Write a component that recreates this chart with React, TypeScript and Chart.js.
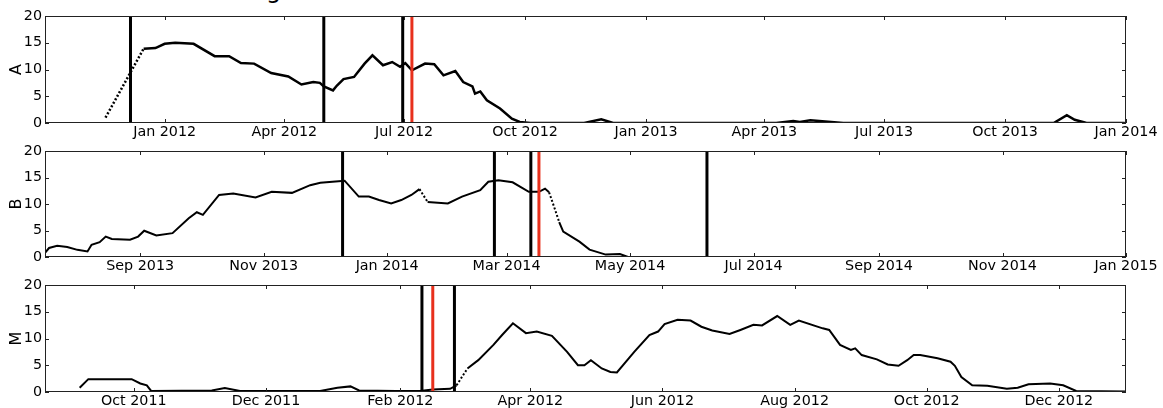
import React, { useEffect, useRef } from "react";
import { Chart, registerables } from "chart.js";

Chart.register(...registerables);

// ---------- data ----------
// Panel A
const A_DATES = [
  "2011-11-17", "2011-12-16", "2011-12-25", "2012-01-01", "2012-01-09", "2012-01-23",
  "2012-02-08", "2012-02-19", "2012-02-28", "2012-03-09", "2012-03-22", "2012-04-04",
  "2012-04-14", "2012-04-23", "2012-04-28", "2012-05-01", "2012-05-08", "2012-05-11",
  "2012-05-16", "2012-05-24", "2012-06-01", "2012-06-07", "2012-06-15", "2012-06-22",
  "2012-06-28", "2012-07-02", "2012-07-07", "2012-07-17", "2012-07-24", "2012-07-31",
  "2012-08-09", "2012-08-15", "2012-08-22", "2012-08-24", "2012-08-28", "2012-09-02",
  "2012-09-12", "2012-09-21", "2012-09-27", "2012-10-05", "2012-11-15", "2012-11-28",
  "2012-12-07", "2013-04-10", "2013-04-23", "2013-04-28", "2013-05-06", "2013-05-31",
  "2013-11-07", "2013-11-17", "2013-11-23", "2013-12-02", "2013-12-31",
];
const A_VALUES = [
  1.0, 13.9, 14.0, 14.8, 15.0, 14.8,
  12.5, 12.5, 11.2, 11.1, 9.35, 8.7,
  7.2, 7.65, 7.5, 6.85, 6.1, 7.0,
  8.2, 8.6, 11.1, 12.65, 10.8, 11.4,
  10.5, 11.2, 9.85, 11.1, 11.0, 8.9,
  9.7, 7.65, 6.85, 5.5, 5.9, 4.25,
  2.7, 0.8, 0.2, 0.0, 0.0, 0.7,
  0.0, 0.0, 0.35, 0.2, 0.5, 0.0,
  0.0, 1.45, 0.6, 0.0, 0.0,
];
const A_BLACK_LINES = ["2011-12-06", "2012-05-01", "2012-06-30"];
const A_RED_LINES = ["2012-07-07"];
const A_TICKS = [
  "2012-01-01", "2012-04-01", "2012-07-01", "2012-10-01", "2013-01-01",
  "2013-04-01", "2013-07-01", "2013-10-01", "2014-01-01",
];
const A_RANGE = ["2011-10-02", "2014-01-01"];

// Panel B
const B_DATES = [
  "2013-07-16", "2013-07-18", "2013-07-22", "2013-07-27", "2013-08-01", "2013-08-06",
  "2013-08-08", "2013-08-12", "2013-08-15", "2013-08-18", "2013-08-27", "2013-08-31",
  "2013-09-03", "2013-09-09", "2013-09-17", "2013-09-25", "2013-09-29", "2013-10-02",
  "2013-10-10", "2013-10-17", "2013-10-28", "2013-11-05", "2013-11-15", "2013-11-24",
  "2013-11-29", "2013-12-05", "2013-12-11", "2013-12-18", "2013-12-23", "2013-12-28",
  "2014-01-03", "2014-01-08", "2014-01-13", "2014-01-17", "2014-01-21", "2014-01-31",
  "2014-02-07", "2014-02-16", "2014-02-20", "2014-02-25", "2014-03-04", "2014-03-12",
  "2014-03-17", "2014-03-20", "2014-03-22", "2014-03-25", "2014-03-27", "2014-03-29",
  "2014-04-06", "2014-04-11", "2014-04-19", "2014-04-26", "2014-04-30", "2015-01-01",
];
const B_VALUES = [
  0.8, 1.7, 2.1, 1.9, 1.35, 1.05,
  2.3, 2.8, 3.85, 3.4, 3.25, 3.85,
  4.95, 4.05, 4.5, 7.3, 8.45, 7.95,
  11.7, 12.0, 11.25, 12.3, 12.1, 13.55,
  14.0, 14.2, 14.4, 11.4, 11.4, 10.75,
  10.1, 10.75, 11.7, 12.8, 10.4, 10.1,
  11.4, 12.6, 14.2, 14.5, 14.1, 12.3,
  12.3, 12.9, 12.2, 8.9, 6.6, 4.8,
  2.9, 1.4, 0.45, 0.55, 0.0, 0.0,
];
const B_BLACK_LINES = ["2013-12-10", "2014-02-23", "2014-03-13", "2014-06-08"];
const B_RED_LINES = ["2014-03-17"];
const B_TICKS = [
  "2013-09-01", "2013-11-01", "2014-01-01", "2014-03-01", "2014-05-01",
  "2014-07-01", "2014-09-01", "2014-11-01", "2015-01-01",
];
const B_RANGE = ["2013-07-16", "2015-01-01"];

// Panel M
const M_DATES = [
  "2011-09-06", "2011-09-10", "2011-09-30", "2011-10-04", "2011-10-07", "2011-10-09",
  "2011-11-06", "2011-11-12", "2011-11-19", "2011-12-26", "2012-01-03", "2012-01-09",
  "2012-01-13", "2012-01-30", "2012-02-10", "2012-02-16", "2012-02-24", "2012-02-27",
  "2012-03-03", "2012-03-08", "2012-03-15", "2012-03-19", "2012-03-24", "2012-03-30",
  "2012-04-04", "2012-04-11", "2012-04-18", "2012-04-23", "2012-04-26", "2012-04-29",
  "2012-05-04", "2012-05-08", "2012-05-11", "2012-05-19", "2012-05-26", "2012-05-30",
  "2012-06-02", "2012-06-08", "2012-06-14", "2012-06-19", "2012-06-24", "2012-07-02",
  "2012-07-07", "2012-07-13", "2012-07-17", "2012-07-24", "2012-07-30", "2012-08-03",
  "2012-08-14", "2012-08-17", "2012-08-22", "2012-08-27", "2012-08-29", "2012-09-01",
  "2012-09-08", "2012-09-13", "2012-09-18", "2012-09-22", "2012-09-25", "2012-09-28",
  "2012-10-06", "2012-10-12", "2012-10-14", "2012-10-17", "2012-10-22", "2012-10-29",
  "2012-11-07", "2012-11-12", "2012-11-17", "2012-11-27", "2012-12-03", "2012-12-09",
  "2013-01-01",
];
const M_VALUES = [
  0.8, 2.4, 2.4, 1.6, 1.25, 0.2,
  0.3, 0.75, 0.2, 0.2, 0.8, 1.05,
  0.3, 0.2, 0.2, 0.45, 0.6, 1.25,
  4.4, 5.95, 8.8, 10.65, 12.85, 11.0,
  11.3, 10.5, 7.5, 5.0, 5.0, 5.95,
  4.4, 3.75, 3.65, 7.5, 10.65, 11.3,
  12.7, 13.5, 13.35, 12.2, 11.5, 10.85,
  11.6, 12.55, 12.45, 14.2, 12.55, 13.35,
  11.9, 11.6, 8.8, 7.85, 8.15, 6.9,
  6.1, 5.15, 4.9, 5.95, 6.9, 6.9,
  6.3, 5.65, 4.9, 2.8, 1.25, 1.15,
  0.6, 0.8, 1.45, 1.6, 1.25, 0.2,
  0.1,
];
const M_BLACK_LINES = ["2012-02-11", "2012-02-26"];
const M_RED_LINES = ["2012-02-16"];
const M_TICKS = [
  "2011-10-01", "2011-12-01", "2012-02-01", "2012-04-01", "2012-06-01",
  "2012-08-01", "2012-10-01", "2012-12-01",
];
const M_RANGE = ["2011-08-21", "2013-01-01"];

const Y_TICKS = [0, 5, 10, 15, 20];
const MONTHS = ["Jan", "Feb", "Mar", "Apr", "May", "Jun", "Jul", "Aug", "Sep", "Oct", "Nov", "Dec"];

// ---------- helpers ----------
const DAY = 86400000;
const toDay = (s: string) =>
  Date.UTC(+s.slice(0, 4), +s.slice(5, 7) - 1, +s.slice(8, 10)) / DAY;
const fmtDay = (v: number) => {
  const dt = new Date(Math.round(v) * DAY);
  return `${MONTHS[dt.getUTCMonth()]} ${dt.getUTCFullYear()}`;
};

const FONT = "'DejaVu Sans', sans-serif";

const frameAndTicks = {
  id: "frameAndTicks",
  afterDatasetsDraw(chart: any) {
    const { ctx, chartArea } = chart;
    const { left, right, top, bottom } = chartArea;
    const xs = chart.scales.x;
    const ys = chart.scales.y;
    ctx.save();
    ctx.strokeStyle = "#222";
    ctx.lineWidth = 1;
    ctx.beginPath();
    const L = 4;
    xs.ticks.forEach((t: any) => {
      const px = Math.round(xs.getPixelForValue(t.value)) + 0.5;
      ctx.moveTo(px, bottom);
      ctx.lineTo(px, bottom - L);
      ctx.moveTo(px, top);
      ctx.lineTo(px, top + L);
    });
    ys.ticks.forEach((t: any) => {
      const py = Math.round(ys.getPixelForValue(t.value)) + 0.5;
      ctx.moveTo(left, py);
      ctx.lineTo(left + L, py);
      ctx.moveTo(right, py);
      ctx.lineTo(right - L, py);
    });
    ctx.stroke();
    ctx.strokeRect(left + 0.5, top + 0.5, right - left - 1, bottom - top - 1);
    ctx.restore();
  },
};

type PanelProps = {
  top: number;
  label: string;
  dates: string[];
  values: number[];
  black: string[];
  red: string[];
  ticks: string[];
  range: string[];
  padTop: number;
  areaBottom: number;
  lineWidth: number;
};

const CANVAS_H = 150;

function Panel(p: PanelProps) {
  const ref = useRef<HTMLCanvasElement>(null);
  useEffect(() => {
    const canvas = ref.current;
    if (!canvas) return;
    const vline = (dStr: string, color: string) => ({
      data: [
        { x: toDay(dStr), y: 0 },
        { x: toDay(dStr), y: 20 },
      ],
      borderColor: color,
      borderWidth: 3,
      pointRadius: 0,
      order: 0,
    });
    const steep = (c: any) => {
      const dx = Math.abs(c.p1.x - c.p0.x);
      const dy = Math.abs(c.p1.y - c.p0.y);
      return dy > 1.4 * dx && dy > 12;
    };
    const chart = new Chart(canvas, {
      type: "line",
      data: {
        datasets: [
          ...p.red.map((s) => vline(s, "#e8301c")),
          ...p.black.map((s) => vline(s, "#000")),
          {
            data: p.dates.map((s, i) => ({ x: toDay(s), y: p.values[i] })),
            borderColor: "#000",
            borderWidth: p.lineWidth,
            pointRadius: 0,
            tension: 0,
            order: 1,
            segment: {
              borderDash: (c: any) => (steep(c) ? [2, 2] : undefined),
            },
          },
        ],
      },
      options: {
        responsive: false,
        animation: false,
        devicePixelRatio: 1,
        events: [],
        layout: { padding: { left: 0, right: 37, top: p.padTop, bottom: 0 } },
        plugins: { legend: { display: false }, tooltip: { enabled: false } },
        scales: {
          x: {
            type: "linear",
            min: toDay(p.range[0]),
            max: toDay(p.range[1]),
            afterBuildTicks: (s: any) => {
              s.ticks = p.ticks.map((t) => ({ value: toDay(t) }));
            },
            afterFit: (s: any) => {
              s.height = CANVAS_H - p.areaBottom;
            },
            ticks: {
              autoSkip: false,
              maxRotation: 0,
              minRotation: 0,
              padding: 1,
              color: "#000",
              font: { family: FONT, size: 14.3 },
              callback: (v: any) => fmtDay(Number(v)),
            },
            grid: { display: false, drawTicks: false },
            border: { display: false },
          },
          y: {
            min: 0,
            max: 20,
            afterBuildTicks: (s: any) => {
              s.ticks = Y_TICKS.map((v) => ({ value: v }));
            },
            afterFit: (s: any) => {
              s.width = 45;
            },
            ticks: {
              padding: 3,
              color: "#000",
              font: { family: FONT, size: 14.3 },
            },
            grid: { display: false, drawTicks: false },
            border: { display: false },
            title: {
              display: true,
              text: p.label,
              color: "#000",
              font: { family: FONT, size: 16 },
              padding: { top: 7.4, bottom: 0 },
            },
          },
        },
      },
      plugins: [frameAndTicks],
    } as any);
    return () => chart.destroy();
  }, []);
  return (
    <canvas
      ref={ref}
      width={1163}
      height={CANVAS_H}
      style={{ position: "absolute", left: 0, top: p.top, width: 1163, height: CANVAS_H }}
    />
  );
}

export default function App() {
  return (
    <div
      style={{
        position: "absolute",
        left: 0,
        top: 0,
        width: 1163,
        height: 408,
        overflow: "hidden",
        background: "#fff",
      }}
    >
      <div
        style={{
          position: "absolute",
          left: 266,
          top: -22,
          fontFamily: FONT,
          fontSize: 24,
          lineHeight: "24px",
          color: "#000",
        }}
      >
        g
      </div>
      <Panel top={0} label="A" dates={A_DATES} values={A_VALUES} black={A_BLACK_LINES} red={A_RED_LINES}
        ticks={A_TICKS} range={A_RANGE} padTop={16} areaBottom={123} lineWidth={2.5} />
      <Panel top={135} label="B" dates={B_DATES} values={B_VALUES} black={B_BLACK_LINES} red={B_RED_LINES}
        ticks={B_TICKS} range={B_RANGE} padTop={16} areaBottom={122} lineWidth={2} />
      <Panel top={270} label="M" dates={M_DATES} values={M_VALUES} black={M_BLACK_LINES} red={M_RED_LINES}
        ticks={M_TICKS} range={M_RANGE} padTop={15} areaBottom={122} lineWidth={2} />
    </div>
  );
}
